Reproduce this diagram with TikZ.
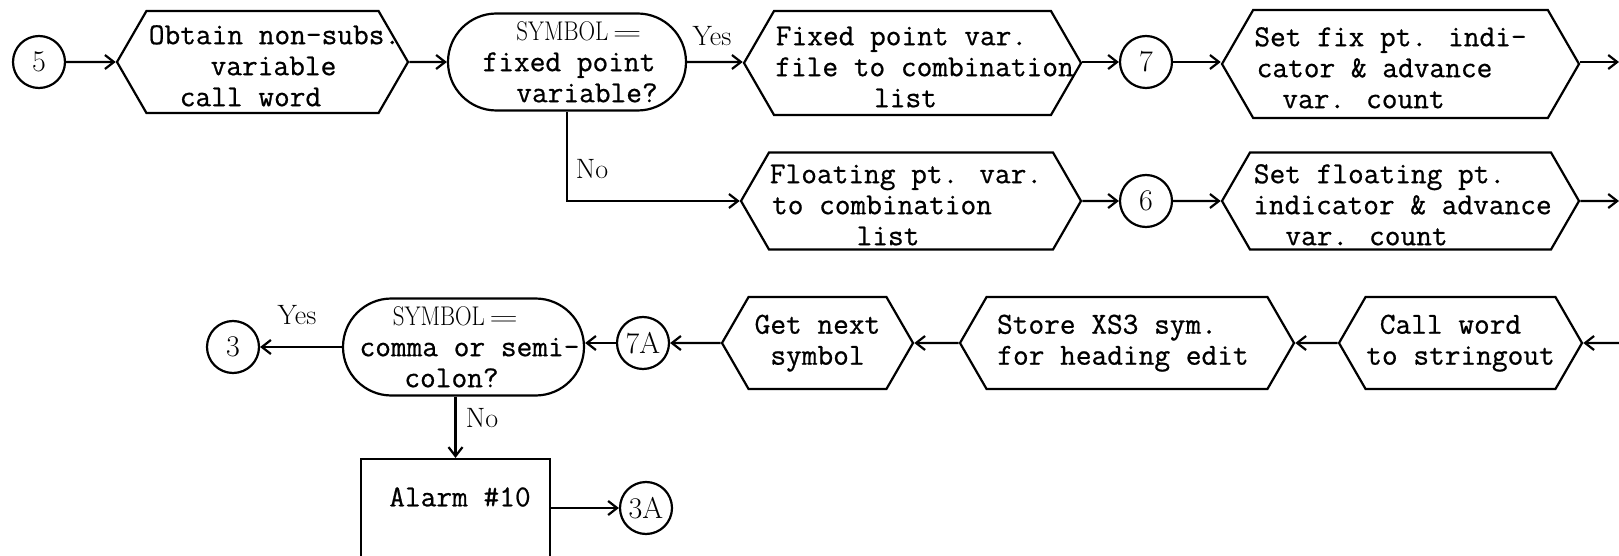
\documentclass[tikz,border=0pt]{standalone}
\usepackage{fontspec}
\usepackage{tikz}
\usetikzlibrary{positioning, shapes.symbols, shapes.misc, arrows.meta}

\newfontfamily\typefont{Latin Modern Mono}[FakeBold=0.7]
\newcommand{\boxlines}[2][-7pt]{\makebox[0pt]{\raisebox{#1}[\height][\depth]{\begin{tabular}{@{}c@{}}#2\end{tabular}}}}
\newcommand{\tline}[2]{\makebox[0pt]{\hspace*{#1}\hspace*{#1}#2}}
\newcommand{\symeq}{{\rmfamily\fontsize{27}{29}\selectfont
  \scalebox{0.85}[1]{SYMBOL}\,\scalebox{1.6}[1]{$=$}}}

\begin{document}
\begin{tikzpicture}[
  x=1pt, y=-1pt,
  every node/.style={font=\fontsize{30.5}{31}\selectfont\typefont},
  hexbox/.style={signal, signal to=west and east, signal pointer angle=120,
                 draw, line width=2.2pt, inner sep=0pt},
  query/.style={rounded rectangle, draw, line width=2.2pt, inner sep=0pt},
  procbox/.style={rectangle, draw, line width=2.2pt, inner sep=0pt},
  conn/.style={circle, draw, line width=2.2pt, minimum size=52pt, inner sep=0pt,
               font=\fontsize{30}{32}\selectfont\rmfamily},
  answer/.style={font=\fontsize{28}{30}\selectfont\rmfamily},
  flow/.style={-{Straight Barb[length=9pt, width=14pt]}, line width=2.2pt},
]
\useasboundingbox (0,0) rectangle (1619,556);
\clip (0,0) rectangle (1619,556);

% top row -- fixed point
\node[conn] (c5) at (39, 62) {5};
\node[hexbox, minimum width=291pt, minimum height=102pt] (obtain) at (262.5, 62)
  {\boxlines{\tline{12pt}{Obtain non-subs.}\\\tline{11pt}{variable}\\\tline{-12pt}{call word}}};
\node[query, minimum width=238pt, minimum height=97pt] (fixq) at (567, 62)
  {\boxlines[-3pt]{\tline{12pt}{\symeq}\\\tline{2pt}{fixed point}\\\tline{20pt}{variable?}}};
\node[answer] (yes1) at (712, 36) {Yes};
\node[hexbox, minimum width=337pt, minimum height=104pt] (fixfile) at (912.5, 63)
  {\boxlines{\tline{-11pt}{Fixed point var.}\\\tline{12pt}{file to combination}\\\tline{-7pt}{list}}};
\node[conn] (c7) at (1146, 62) {7};
\node[hexbox, minimum width=357pt, minimum height=108pt] (fixset) at (1400.5, 64)
  {\boxlines{\tline{-10pt}{Set fix pt. indi-}\\\tline{-26pt}{cator \& advance}\\\tline{-37pt}{var. count}}};
\coordinate (out1) at (1619, 62);

% second row -- floating point
\node[answer] (no1) at (592, 169) {No};
\node[hexbox, minimum width=340pt, minimum height=97pt] (flofile) at (911, 201)
  {\boxlines{\tline{-5pt}{Floating pt. var.}\\\tline{-29pt}{to combination}\\\tline{-23pt}{list}}};
\node[conn] (c6) at (1146, 201) {6};
\node[hexbox, minimum width=357pt, minimum height=97pt] (floset) at (1400.5, 201)
  {\boxlines{\tline{-21pt}{Set floating pt.}\\\tline{2pt}{indicator \& advance}\\\tline{-34pt}{var. count}}};
\coordinate (out2) at (1619, 201);

% bottom row -- runs right to left
\coordinate (in1) at (1619, 343);
\node[hexbox, minimum width=243pt, minimum height=92pt] (callw) at (1460.5, 343)
  {\boxlines[0pt]{\tline{-10pt}{Call word}\\to stringout}};
\node[hexbox, minimum width=334pt, minimum height=92pt] (store) at (1127, 343)
  {\boxlines[0pt]{\tline{-20pt}{Store XS3 sym.}\\\tline{-4pt}{for heading edit}}};
\node[hexbox, minimum width=191pt, minimum height=92pt] (getnext) at (817.5, 343)
  {\boxlines[0pt]{Get next\\symbol}};
\node[conn] (c7a) at (643, 343) {7A};
\node[query, minimum width=241pt, minimum height=97pt] (commaq) at (463.5, 347)
  {\boxlines[-3pt]{\tline{-8pt}{\symeq}\\\tline{6pt}{comma or semi-}\\\tline{-12pt}{colon?}}};
\node[answer] (yes2) at (297, 315) {Yes};
\node[conn] (c3) at (233, 347) {3};
\node[answer] (no2) at (482, 418) {No};
\node[procbox, minimum width=189pt, minimum height=170pt] (alarm) at (455.5, 544) {};
\node (alarmtxt) at (460, 497) {Alarm \#10};
\node[conn] (c3a) at (646, 508) {3A};

% connectors
\draw[flow] (c5) -- (obtain);
\draw[flow] (obtain) -- (fixq);
\draw[flow] (fixq) -- (fixfile.west |- fixq);
\draw[flow] (fixfile.east |- c7) -- (c7);
\draw[flow] (c7) -- (fixset.west |- c7);
\draw[flow] (fixset.east |- out1) -- (out1);
\draw[flow] (fixq.south) |- (flofile.west);
\draw[flow] (flofile) -- (c6);
\draw[flow] (c6) -- (floset);
\draw[flow] (floset) -- (out2);
\draw[flow] (in1) -- (callw);
\draw[flow] (callw) -- (store);
\draw[flow] (store) -- (getnext);
\draw[flow] (getnext) -- (c7a);
\draw[flow] (c7a.west) -- (c7a.west -| commaq.east);
\draw[flow] (commaq) -- (c3);
\draw[flow] (commaq.south -| alarm.north) -- (alarm.north);
\draw[flow] (alarm.east |- c3a) -- (c3a);
\end{tikzpicture}
\end{document}
